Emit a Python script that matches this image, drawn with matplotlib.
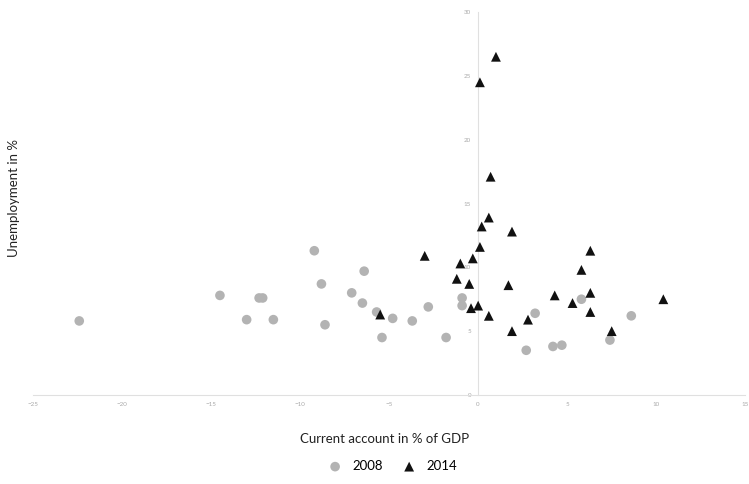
import matplotlib.pyplot as plt

plt.rcParams['font.family'] = ['Lato', 'DejaVu Sans']

# 2008: current account (% of GDP) vs unemployment (%)
ca_2008 = [-22.4, -14.5, -12.3, -12.1, -13.0, -11.5, -9.2, -8.8, -8.6,
           -6.4, -7.1, -6.5, -5.7, -4.8, -5.4, -3.7, -2.8, -0.9, -0.9,
           -1.8, 3.2, 2.7, 4.2, 4.7, 5.8, 7.4, 8.6]
un_2008 = [5.8, 7.8, 7.6, 7.6, 5.9, 5.9, 11.3, 8.7, 5.5,
           9.7, 8.0, 7.2, 6.5, 6.0, 4.5, 5.8, 6.9, 7.6, 7.0,
           4.5, 6.4, 3.5, 3.8, 3.9, 7.5, 4.3, 6.2]

# 2014
ca_2014 = [1.0, 0.1, 0.7, 0.6, 0.2, 1.9, 0.1, -3.0, -0.3, -1.0,
           6.3, 5.8, -1.2, -0.5, 1.7, 4.3, 6.3, 5.3, 10.4, -0.4,
           0.0, 6.3, 0.6, 2.8, 1.9, 7.5, -5.5]
un_2014 = [26.5, 24.5, 17.1, 13.9, 13.2, 12.8, 11.6, 10.9, 10.7, 10.3,
           11.3, 9.8, 9.1, 8.7, 8.6, 7.8, 8.0, 7.2, 7.5, 6.8,
           7.0, 6.5, 6.2, 5.9, 5.0, 5.0, 6.3]

fig = plt.figure(figsize=(7.49, 4.84), dpi=100)
ax = fig.add_axes([0.044, 0.184, 0.951, 0.791])

ax.scatter(ca_2008, un_2008, s=48, color='#b3b3b3', edgecolors='none',
           label='2008', zorder=3)
ax.scatter(ca_2014, un_2014, s=50, color='#111111', marker='^',
           edgecolors='none', label='2014', zorder=4)

ax.set_xlim(-25, 15)
ax.set_ylim(0, 30)
ax.set_xticks(range(-25, 16, 5))
ax.set_yticks(range(0, 31, 5))

for side in ['top', 'right']:
    ax.spines[side].set_visible(False)
ax.spines['left'].set_position(('data', 0))
ax.spines['left'].set_color('#e0e0e0')
ax.spines['bottom'].set_color('#e0e0e0')
ax.tick_params(length=0, labelsize=4.5, colors='#aaaaaa', pad=5)

fig.text(0.019, 0.59, 'Unemployment in %', rotation=90, ha='center',
         va='center', fontsize=9.5, color='#222222')
fig.text(0.514, 0.092, 'Current account in % of GDP', ha='center',
         va='center', fontsize=9.5, color='#222222')

fig.legend(loc='center', bbox_to_anchor=(0.52, 0.037), ncol=2,
           frameon=False, fontsize=9.5, handletextpad=0.3,
           columnspacing=1.0, markerscale=1.0)

fig.savefig('out.png', dpi=100)
